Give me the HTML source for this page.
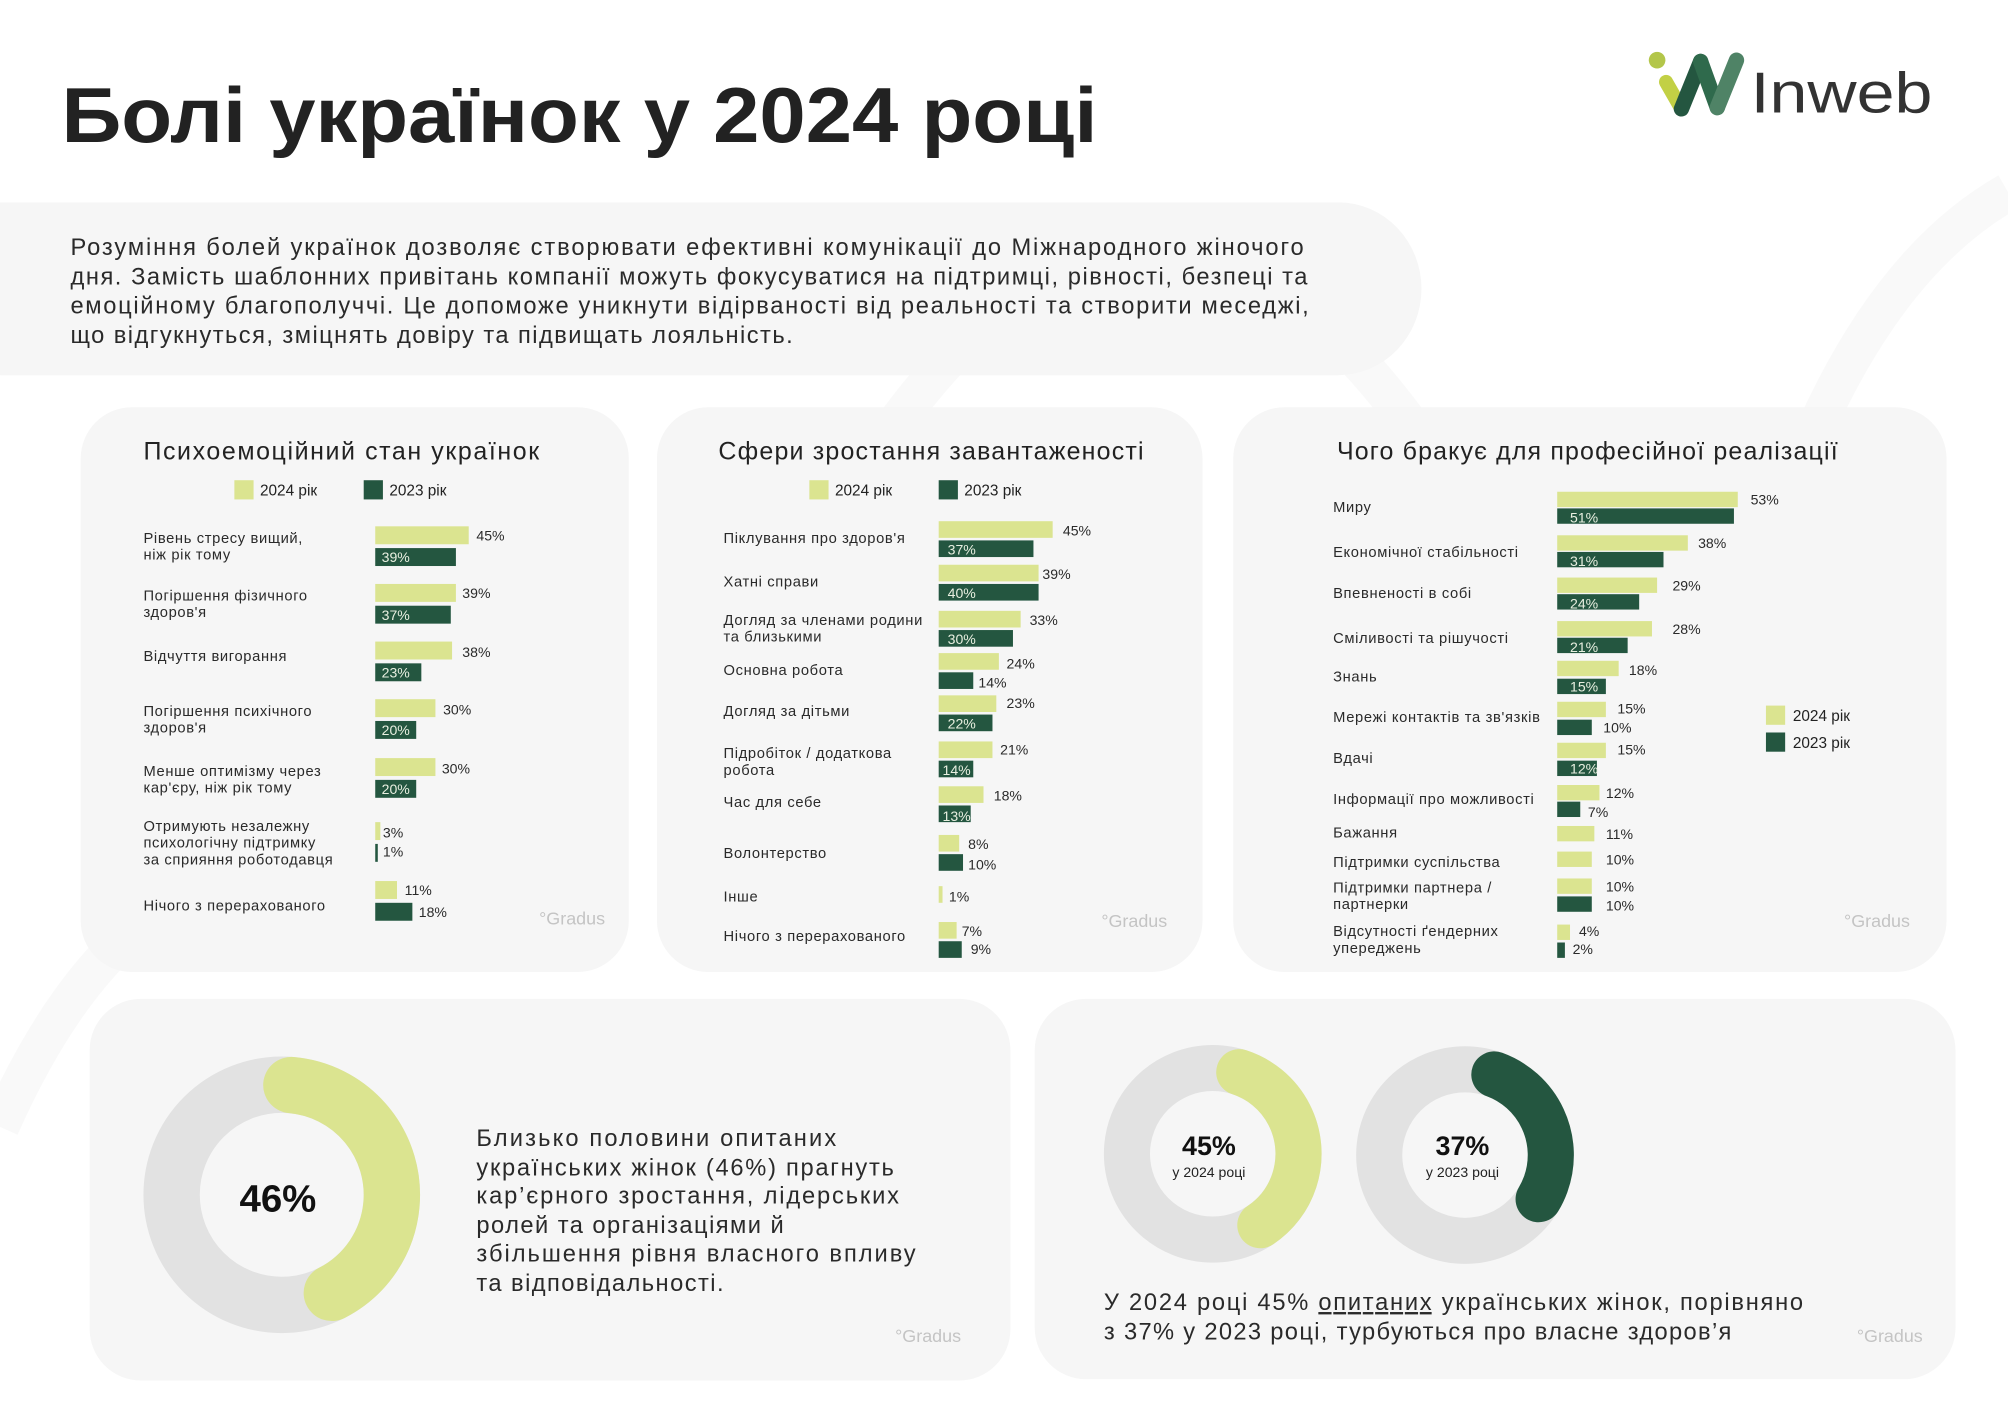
<!DOCTYPE html>
<html><head><meta charset="utf-8"><style>
html,body{margin:0;padding:0;background:#fff;width:2008px;height:1408px;overflow:hidden}
svg{display:block}
text{font-family:"Liberation Sans","DejaVu Sans",sans-serif;fill:#222}
.lb{font-size:11.5px;fill:#2a2a2a;letter-spacing:0.5px}
.v{font-size:11px;fill:#2a2a2a}
.vw{font-size:11px;fill:#e8efe0}
.t{font-size:19.5px}
.lg{font-size:12px}
.g{font-size:14px;fill:#c4c4c4}
.p{font-size:18.5px;fill:#2a2a2a}
.L{fill:#dbe490}
.D{fill:#245640}
</style></head><body>
<svg width="2008" height="1408" viewBox="0 0 1568 1099.5" xmlns="http://www.w3.org/2000/svg">
<rect width="1568" height="1100" fill="#fff"/>
<path d="M700 330 Q900 60 1100 330" fill="none" stroke="#f9f9f9" stroke-width="30"/>
<path d="M1420 330 Q1480 200 1568 150" fill="none" stroke="#f9f9f9" stroke-width="30"/>
<path d="M0 880 Q40 790 90 740" fill="none" stroke="#f9f9f9" stroke-width="30"/>
<text x="48" y="111" textLength="809" lengthAdjust="spacingAndGlyphs" style="font-size:61px;font-weight:bold;fill:#222">Болі українок у 2024 році</text>
<circle cx="1294" cy="47" r="6.5" fill="#b3c64a"/>
<line x1="1301" y1="64" x2="1313" y2="85" stroke="#c2d045" stroke-width="11" stroke-linecap="round"/>
<line x1="1313" y1="85" x2="1328" y2="48" stroke="#245640" stroke-width="12" stroke-linecap="round"/>
<line x1="1328" y1="48" x2="1341" y2="84" stroke="#2f6a4c" stroke-width="12" stroke-linecap="round"/>
<line x1="1341" y1="84" x2="1356" y2="47" stroke="#4f8366" stroke-width="12" stroke-linecap="round"/>
<text x="1367" y="88" textLength="142" lengthAdjust="spacingAndGlyphs" style="font-size:45px;fill:#333">Inweb</text>
<path d="M0 158 H1045 A65 67.5 0 0 1 1045 293 H0 Z" fill="#f6f6f6"/>
<text class="p" x="55" y="199" textLength="963">Розуміння болей українок дозволяє створювати ефективні комунікації до Міжнародного жіночого</text>
<text class="p" x="55" y="222" textLength="966">дня. Замість шаблонних привітань компанії можуть фокусуватися на підтримці, рівності, безпеці та</text>
<text class="p" x="55" y="245" textLength="967">емоційному благополуччі. Це допоможе уникнути відірваності від реальності та створити меседжі,</text>
<text class="p" x="55" y="268" textLength="564">що відгукнуться, зміцнять довіру та підвищать лояльність.</text>

<rect x="63" y="318" width="428" height="441" rx="40" fill="#f6f6f6"/>
<rect x="513" y="318" width="426" height="441" rx="40" fill="#f6f6f6"/>
<rect x="963" y="318" width="557" height="441" rx="40" fill="#f6f6f6"/>
<rect x="70" y="780" width="719" height="298" rx="40" fill="#f6f6f6"/>
<rect x="808" y="780" width="719" height="297" rx="40" fill="#f6f6f6"/>

<text class="t" x="112" y="359" textLength="309">Психоемоційний стан українок</text>
<rect class="L" x="183" y="375" width="15" height="15"/><text class="lg" x="203" y="387">2024 рік</text>
<rect class="D" x="284" y="375" width="15" height="15"/><text class="lg" x="304" y="387">2023 рік</text>
<g>
<text class="lb" x="112" y="424">Рівень стресу вищий,</text><text class="lb" x="112" y="437">ніж рік тому</text>
<rect class="L" x="293" y="411" width="73" height="14"/><text class="v" x="372" y="422">45%</text>
<rect class="D" x="293" y="428" width="63" height="14"/><text class="vw" x="298" y="439">39%</text>
<text class="lb" x="112" y="469">Погіршення фізичного</text><text class="lb" x="112" y="482">здоров'я</text>
<rect class="L" x="293" y="456" width="63" height="14"/><text class="v" x="361" y="467">39%</text>
<rect class="D" x="293" y="473" width="59" height="14"/><text class="vw" x="298" y="484">37%</text>
<text class="lb" x="112" y="516">Відчуття вигорання</text>
<rect class="L" x="293" y="501" width="60" height="14"/><text class="v" x="361" y="513">38%</text>
<rect class="D" x="293" y="518" width="36" height="14"/><text class="vw" x="298" y="529">23%</text>
<text class="lb" x="112" y="559">Погіршення психічного</text><text class="lb" x="112" y="572">здоров'я</text>
<rect class="L" x="293" y="546" width="47" height="14"/><text class="v" x="346" y="558">30%</text>
<rect class="D" x="293" y="563" width="32" height="14"/><text class="vw" x="298" y="574">20%</text>
<text class="lb" x="112" y="606">Менше оптимізму через</text><text class="lb" x="112" y="619">кар'єру, ніж рік тому</text>
<rect class="L" x="293" y="592" width="47" height="14"/><text class="v" x="345" y="604">30%</text>
<rect class="D" x="293" y="609" width="32" height="14"/><text class="vw" x="298" y="620">20%</text>
<text class="lb" x="112" y="649">Отримують незалежну</text><text class="lb" x="112" y="662">психологічну підтримку</text><text class="lb" x="112" y="675">за сприяння роботодавця</text>
<rect class="L" x="293" y="642" width="4" height="14"/><text class="v" x="299" y="654">3%</text>
<rect class="D" x="293" y="659" width="2" height="14"/><text class="v" x="299" y="669">1%</text>
<text class="lb" x="112" y="711">Нічого з перерахованого</text>
<rect class="L" x="293" y="688" width="17" height="14"/><text class="v" x="316" y="699">11%</text>
<rect class="D" x="293" y="705" width="29" height="14"/><text class="v" x="327" y="716">18%</text>
<text class="g" x="421" y="722">°Gradus</text>
</g>

<text class="t" x="561" y="359" textLength="332">Сфери зростання завантаженості</text>
<rect class="L" x="632" y="375" width="15" height="15"/><text class="lg" x="652" y="387">2024 рік</text>
<rect class="D" x="733" y="375" width="15" height="15"/><text class="lg" x="753" y="387">2023 рік</text>
<g>
<text class="lb" x="565" y="424">Піклування про здоров'я</text>
<rect class="L" x="733" y="407" width="89" height="13"/><text class="v" x="830" y="418">45%</text>
<rect class="D" x="733" y="422" width="74" height="13"/><text class="vw" x="740" y="433">37%</text>
<text class="lb" x="565" y="458">Хатні справи</text>
<rect class="L" x="733" y="441" width="78" height="13"/><text class="v" x="814" y="452">39%</text>
<rect class="D" x="733" y="456" width="78" height="13"/><text class="vw" x="740" y="467">40%</text>
<text class="lb" x="565" y="488">Догляд за членами родини</text><text class="lb" x="565" y="501">та близькими</text>
<rect class="L" x="733" y="477" width="64" height="13"/><text class="v" x="804" y="488">33%</text>
<rect class="D" x="733" y="492" width="58" height="13"/><text class="vw" x="740" y="503">30%</text>
<text class="lb" x="565" y="527">Основна робота</text>
<rect class="L" x="733" y="510" width="47" height="13"/><text class="v" x="786" y="522">24%</text>
<rect class="D" x="733" y="525" width="27" height="13"/><text class="v" x="764" y="537">14%</text>
<text class="lb" x="565" y="559">Догляд за дітьми</text>
<rect class="L" x="733" y="543" width="45" height="13"/><text class="v" x="786" y="553">23%</text>
<rect class="D" x="733" y="558" width="42" height="13"/><text class="vw" x="740" y="569">22%</text>
<text class="lb" x="565" y="592">Підробіток / додаткова</text><text class="lb" x="565" y="605">робота</text>
<rect class="L" x="733" y="579" width="42" height="13"/><text class="v" x="781" y="589">21%</text>
<rect class="D" x="733" y="594" width="27" height="13"/><text class="vw" x="736" y="605">14%</text>
<text class="lb" x="565" y="630">Час для себе</text>
<rect class="L" x="733" y="614" width="35" height="13"/><text class="v" x="776" y="625">18%</text>
<rect class="D" x="733" y="629" width="25" height="13"/><text class="vw" x="736" y="641">13%</text>
<text class="lb" x="565" y="670">Волонтерство</text>
<rect class="L" x="733" y="652" width="16" height="13"/><text class="v" x="756" y="663">8%</text>
<rect class="D" x="733" y="667" width="19" height="13"/><text class="v" x="756" y="679">10%</text>
<text class="lb" x="565" y="704">Інше</text>
<rect class="L" x="733" y="692" width="3" height="13"/><text class="v" x="741" y="704">1%</text>
<text class="lb" x="565" y="735">Нічого з перерахованого</text>
<rect class="L" x="733" y="720" width="14" height="13"/><text class="v" x="751" y="731">7%</text>
<rect class="D" x="733" y="735" width="18" height="13"/><text class="v" x="758" y="745">9%</text>
<text class="g" x="860" y="724">°Gradus</text>
</g>

<text class="t" x="1044" y="359" textLength="391">Чого бракує для професійної реалізації</text>
<g>
<text class="lb" x="1041" y="400">Миру</text>
<rect class="L" x="1216" y="384" width="141" height="12"/><text class="v" x="1367" y="394">53%</text>
<rect class="D" x="1216" y="397" width="138" height="12"/><text class="vw" x="1226" y="408">51%</text>
<text class="lb" x="1041" y="435">Економічної стабільності</text>
<rect class="L" x="1216" y="418" width="102" height="12"/><text class="v" x="1326" y="428">38%</text>
<rect class="D" x="1216" y="431" width="83" height="12"/><text class="vw" x="1226" y="442">31%</text>
<text class="lb" x="1041" y="467">Впевненості в собі</text>
<rect class="L" x="1216" y="451" width="78" height="12"/><text class="v" x="1306" y="461">29%</text>
<rect class="D" x="1216" y="464" width="64" height="12"/><text class="vw" x="1226" y="475">24%</text>
<text class="lb" x="1041" y="502">Сміливості та рішучості</text>
<rect class="L" x="1216" y="485" width="74" height="12"/><text class="v" x="1306" y="495">28%</text>
<rect class="D" x="1216" y="498" width="55" height="12"/><text class="vw" x="1226" y="509">21%</text>
<text class="lb" x="1041" y="532">Знань</text>
<rect class="L" x="1216" y="516" width="48" height="12"/><text class="v" x="1272" y="527">18%</text>
<rect class="D" x="1216" y="530" width="38" height="12"/><text class="vw" x="1226" y="540">15%</text>
<text class="lb" x="1041" y="564" textLength="162">Мережі контактів та зв'язків</text>
<rect class="L" x="1216" y="548" width="38" height="12"/><text class="v" x="1263" y="557">15%</text>
<rect class="D" x="1216" y="562" width="27" height="12"/><text class="v" x="1252" y="572">10%</text>
<text class="lb" x="1041" y="596">Вдачі</text>
<rect class="L" x="1216" y="580" width="38" height="12"/><text class="v" x="1263" y="589">15%</text>
<rect class="D" x="1216" y="594" width="31" height="12"/><text class="vw" x="1226" y="604">12%</text>
<text class="lb" x="1041" y="628">Інформації про можливості</text>
<rect class="L" x="1216" y="613" width="33" height="12"/><text class="v" x="1254" y="623">12%</text>
<rect class="D" x="1216" y="626" width="18" height="12"/><text class="v" x="1240" y="638">7%</text>
<text class="lb" x="1041" y="654">Бажання</text>
<rect class="L" x="1216" y="645" width="29" height="12"/><text class="v" x="1254" y="655">11%</text>
<text class="lb" x="1041" y="677">Підтримки суспільства</text>
<rect class="L" x="1216" y="665" width="27" height="12"/><text class="v" x="1254" y="675">10%</text>
<text class="lb" x="1041" y="697">Підтримки партнера /</text><text class="lb" x="1041" y="710">партнерки</text>
<rect class="L" x="1216" y="686" width="27" height="12"/><text class="v" x="1254" y="696">10%</text>
<rect class="D" x="1216" y="700" width="27" height="12"/><text class="v" x="1254" y="711">10%</text>
<text class="lb" x="1041" y="731">Відсутності ґендерних</text><text class="lb" x="1041" y="744">упереджень</text>
<rect class="L" x="1216" y="722" width="10" height="12"/><text class="v" x="1233" y="731">4%</text>
<rect class="D" x="1216" y="736" width="6" height="12"/><text class="v" x="1228" y="745">2%</text>
<rect class="L" x="1379" y="551" width="15" height="15"/><text class="lg" x="1400" y="563">2024 рік</text>
<rect class="D" x="1379" y="572" width="15" height="15"/><text class="lg" x="1400" y="584">2023 рік</text>
<text class="g" x="1440" y="724">°Gradus</text>
</g>

<circle cx="220" cy="933" r="86" fill="none" stroke="#e2e2e2" stroke-width="44"/>
<circle cx="220" cy="933" r="86" fill="none" stroke="#dbe490" stroke-width="44" stroke-linecap="round" stroke-dasharray="222 1000" transform="rotate(-85 220 933)"/>
<text x="217" y="946" text-anchor="middle" style="font-size:30px;font-weight:bold;fill:#111">46%</text>
<text class="p" x="372" y="895" textLength="281">Близько половини опитаних</text>
<text class="p" x="372" y="918" textLength="326">українських жінок (46%) прагнуть</text>
<text class="p" x="372" y="940" textLength="330">кар’єрного зростання, лідерських</text>
<text class="p" x="372" y="963" textLength="240">ролей та організаціями й</text>
<text class="p" x="372" y="985" textLength="343">збільшення рівня власного впливу</text>
<text class="p" x="372" y="1008" textLength="193">та відповідальності.</text>
<text class="g" x="699" y="1048">°Gradus</text>

<circle cx="947" cy="901" r="67" fill="none" stroke="#e2e2e2" stroke-width="36"/>
<circle cx="947" cy="901" r="67" fill="none" stroke="#dbe490" stroke-width="36" stroke-linecap="round" stroke-dasharray="150 1000" transform="rotate(-72 947 901)"/>
<text x="944" y="902" text-anchor="middle" style="font-size:21px;font-weight:bold;fill:#111">45%</text>
<text x="944" y="919" text-anchor="middle" style="font-size:11px;fill:#222">у 2024 році</text>
<circle cx="1144" cy="902" r="67" fill="none" stroke="#e2e2e2" stroke-width="36"/>
<circle cx="1144" cy="902" r="67" fill="none" stroke="#245640" stroke-width="36" stroke-linecap="round" stroke-dasharray="118 1000" transform="rotate(-70 1144 902)"/>
<text x="1142" y="902" text-anchor="middle" style="font-size:21px;font-weight:bold;fill:#111">37%</text>
<text x="1142" y="919" text-anchor="middle" style="font-size:11px;fill:#222">у 2023 році</text>
<text class="p" x="862" y="1023" textLength="546">У 2024 році 45% <tspan text-decoration="underline">опитаних</tspan> українських жінок, порівняно</text>
<text class="p" x="862" y="1046" textLength="490">з 37% у 2023 році, турбуються про власне здоров’я</text>
<text class="g" x="1450" y="1048">°Gradus</text>
</svg>
</body></html>
